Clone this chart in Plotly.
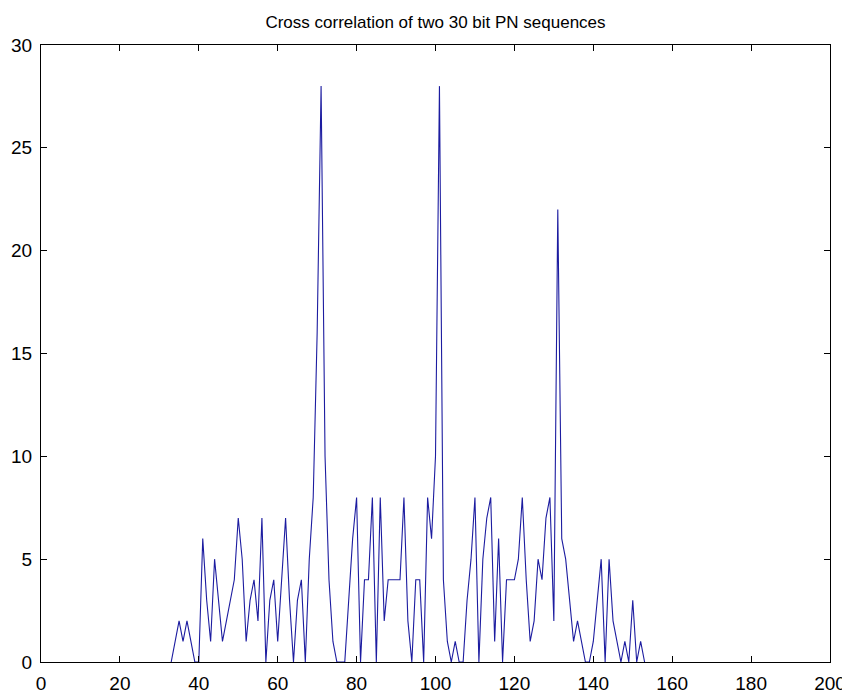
import plotly.graph_objects as go

# lag index of the first plotted sample
first_lag = 33
corr_values = [
    0, 1, 2, 1, 2, 1, 0, 0, 6, 3,
    1, 5, 3, 1, 2, 3, 4, 7, 5, 1,
    3, 4, 2, 7, 0, 3, 4, 1, 4, 7,
    3, 0, 3, 4, 0, 5, 8, 16, 28, 10,
    4, 1, 0, 0, 0, 3, 6, 8, 0, 4,
    4, 8, 0, 8, 2, 4, 4, 4, 4, 8,
    2, 0, 4, 4, 0, 8, 6, 10, 28, 4,
    1, 0, 1, 0, 0, 3, 5, 8, 0, 5,
    7, 8, 1, 6, 0, 4, 4, 4, 5, 8,
    4, 1, 2, 5, 4, 7, 8, 2, 22, 6,
    5, 3, 1, 2, 1, 0, 0, 1, 3, 5,
    0, 5, 2, 1, 0, 1, 0, 3, 0, 1,
    0,
]
lags = list(range(first_lag, first_lag + len(corr_values)))

x_ticks = [0, 20, 40, 60, 80, 100, 120, 140, 160, 180, 200]
y_ticks = [0, 5, 10, 15, 20, 25, 30]
title_text = "Cross correlation of two 30 bit PN sequences"

FONT = "Liberation Sans, Arial, sans-serif"

# the page body adds an 8 px margin, so the figure is sized to fit the window
W, H = 842, 692

fig = go.Figure()
fig.add_trace(go.Scatter(
    x=lags, y=corr_values, mode="lines",
    line=dict(color="#1c1ca0", width=1.1),
    hoverinfo="x+y", showlegend=False,
))

axis_common = dict(
    showgrid=False, zeroline=False, automargin=False,
    showline=True, linecolor="black", linewidth=1,
    mirror="ticks", ticks="inside", ticklen=6, tickcolor="black",
    tickfont=dict(family=FONT, size=19, color="black"),
)

fig.update_layout(
    width=W, height=H, autosize=False,
    paper_bgcolor="white", plot_bgcolor="white",
    margin=dict(l=33, r=20, t=37, b=38),
    title=dict(text=title_text, x=0.5, xref="paper", xanchor="center",
               y=1 - 14 / H, yref="container", yanchor="middle",
               font=dict(family=FONT, size=17, color="black")),
    xaxis=dict(range=[0, 200], tickmode="array", tickvals=x_ticks,
               ticktext=[str(v) for v in x_ticks], ticklabelstandoff=4,
               **axis_common),
    yaxis=dict(range=[0, 30], tickmode="array", tickvals=y_ticks,
               ticktext=[str(v) for v in y_ticks], ticklabelstandoff=4,
               **axis_common),
)

fig.write_html("out.html")
